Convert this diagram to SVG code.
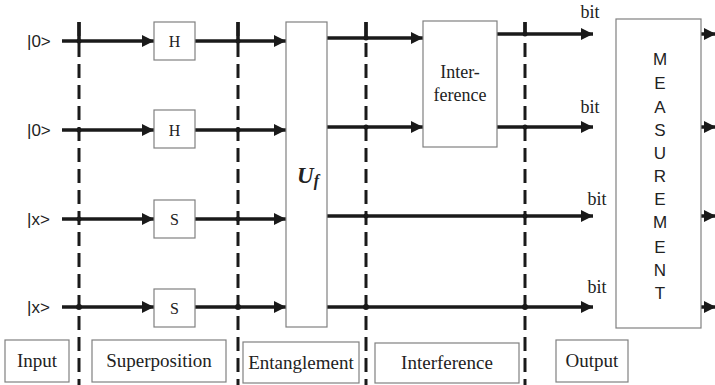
<svg xmlns="http://www.w3.org/2000/svg" width="715" height="385" viewBox="0 0 715 385">
<style>
.wire{stroke:#1a1a1a;stroke-width:3.5;fill:none}
.dash{stroke:#1a1a1a;stroke-width:3;fill:none;stroke-dasharray:14,7}
.box{fill:#fff;stroke:#808080;stroke-width:1.2}
.serif{font-family:"Liberation Serif","Times New Roman",serif;fill:#222}
.sans{font-family:"Liberation Sans",Arial,sans-serif;fill:#222}
.dot{fill:#1a1a1a}
</style>
<defs>
<marker id="arr" viewBox="0 0 12 12" refX="12" refY="6" markerWidth="12" markerHeight="12" markerUnits="userSpaceOnUse" orient="auto">
<path d="M0,0 L12,6 L0,12 Z" fill="#1a1a1a"/>
</marker>
</defs>
<rect width="715" height="385" fill="#fff"/>
<g id="connectors">
<line class="dash" x1="79" y1="22" x2="79" y2="385"/>
<line class="dash" x1="238" y1="22" x2="238" y2="385"/>
<line class="dash" x1="366" y1="22" x2="366" y2="385"/>
<line class="dash" x1="525" y1="22" x2="525" y2="385"/>
<line class="wire" x1="62" y1="41" x2="154" y2="41" marker-end="url(#arr)"/>
<line class="wire" x1="62" y1="130" x2="154" y2="130" marker-end="url(#arr)"/>
<line class="wire" x1="62" y1="219" x2="154" y2="219" marker-end="url(#arr)"/>
<line class="wire" x1="62" y1="307" x2="154" y2="307" marker-end="url(#arr)"/>
<line class="wire" x1="195" y1="41" x2="286" y2="41" marker-end="url(#arr)"/>
<line class="wire" x1="195" y1="130" x2="286" y2="130" marker-end="url(#arr)"/>
<line class="wire" x1="195" y1="219" x2="286" y2="219" marker-end="url(#arr)"/>
<line class="wire" x1="195" y1="307" x2="286" y2="307" marker-end="url(#arr)"/>
<line class="wire" x1="327" y1="38" x2="423" y2="38" marker-end="url(#arr)"/>
<line class="wire" x1="327" y1="127" x2="423" y2="127" marker-end="url(#arr)"/>
<line class="wire" x1="327" y1="216" x2="593" y2="216" marker-end="url(#arr)"/>
<line class="wire" x1="327" y1="307" x2="593" y2="307" marker-end="url(#arr)"/>
<line class="wire" x1="497" y1="34" x2="593" y2="34" marker-end="url(#arr)"/>
<line class="wire" x1="497" y1="127" x2="593" y2="127" marker-end="url(#arr)"/>
<line class="wire" x1="701" y1="34" x2="716" y2="34" marker-end="url(#arr)"/>
<line class="wire" x1="701" y1="127" x2="716" y2="127" marker-end="url(#arr)"/>
<line class="wire" x1="701" y1="216" x2="716" y2="216" marker-end="url(#arr)"/>
<line class="wire" x1="701" y1="307" x2="716" y2="307" marker-end="url(#arr)"/>
<line class="wire" x1="79" y1="22" x2="79" y2="41" stroke-width="3"/>
<line class="wire" x1="238" y1="22" x2="238" y2="41" stroke-width="3"/>
<line class="wire" x1="366" y1="22" x2="366" y2="38" stroke-width="3"/>
<line class="wire" x1="525" y1="22" x2="525" y2="34" stroke-width="3"/>
<circle class="dot" cx="79" cy="41" r="2.5"/>
<circle class="dot" cx="79" cy="130" r="2.5"/>
<circle class="dot" cx="79" cy="219" r="2.5"/>
<circle class="dot" cx="79" cy="307" r="3"/>
<circle class="dot" cx="238" cy="41" r="2.5"/>
<circle class="dot" cx="238" cy="130" r="2.5"/>
<circle class="dot" cx="238" cy="219" r="2.5"/>
<circle class="dot" cx="238" cy="307" r="3"/>
<circle class="dot" cx="366" cy="38" r="2.5"/>
<circle class="dot" cx="366" cy="127" r="2.5"/>
<circle class="dot" cx="366" cy="216" r="2.5"/>
<circle class="dot" cx="366" cy="307" r="3"/>
<circle class="dot" cx="525" cy="34" r="2.5"/>
<circle class="dot" cx="525" cy="127" r="2.5"/>
<circle class="dot" cx="525" cy="216" r="2.5"/>
<circle class="dot" cx="525" cy="307" r="3"/>
</g>
<g id="inputs" class="sans" font-size="17" font-family="Liberation Sans, Arial, sans-serif">
<text x="27" y="47">|0&gt;</text>
<text x="27" y="136">|0&gt;</text>
<text x="27" y="225">|x&gt;</text>
<text x="27" y="313">|x&gt;</text>
</g>
<g id="H1"><rect class="box" x="154" y="22" width="41" height="38"/><text class="serif" x="174.5" y="47" font-size="16" text-anchor="middle">H</text></g>
<g id="H2"><rect class="box" x="154" y="110" width="41" height="38"/><text class="serif" x="174.5" y="136" font-size="16" text-anchor="middle">H</text></g>
<g id="S1"><rect class="box" x="154" y="200" width="41" height="38"/><text class="serif" x="174.5" y="225" font-size="16" text-anchor="middle">S</text></g>
<g id="S2"><rect class="box" x="154" y="289" width="41" height="38"/><text class="serif" x="174.5" y="314" font-size="16" text-anchor="middle">S</text></g>
<g id="Uf"><rect class="box" x="286" y="22" width="41" height="305"/><text class="serif" x="308" y="183" font-size="23" font-weight="bold" font-style="italic" text-anchor="middle">U<tspan font-size="16" dy="3">f</tspan></text></g>
<g id="interference"><rect class="box" x="423" y="21" width="74" height="126"/>
<text class="serif" x="460" y="78" font-size="18" text-anchor="middle">Inter-</text>
<text class="serif" x="460" y="101" font-size="18" text-anchor="middle">ference</text></g>
<g id="bits" class="serif" font-size="18" text-anchor="middle">
<text x="590" y="18">bit</text>
<text x="590" y="113">bit</text>
<text x="597" y="205">bit</text>
<text x="597" y="293">bit</text>
</g>
<g id="measurement"><rect class="box" x="616" y="19" width="85" height="309"/>
<g class="sans" font-size="17" text-anchor="middle">
<text x="660" y="65">M</text><text x="660" y="89">E</text><text x="660" y="113">A</text><text x="660" y="136">S</text><text x="660" y="159">U</text><text x="660" y="182">R</text><text x="660" y="205">E</text><text x="660" y="228">M</text><text x="660" y="253">E</text><text x="660" y="276">N</text><text x="660" y="299">T</text>
</g></g>
<g id="label-input"><rect class="box" x="5" y="340" width="64" height="42"/><text class="serif" x="37" y="367" font-size="19" text-anchor="middle">Input</text></g>
<g id="label-superposition"><rect class="box" x="92" y="340" width="134" height="42"/><text class="serif" x="159" y="367" font-size="19" text-anchor="middle">Superposition</text></g>
<g id="label-entanglement"><rect class="box" x="243" y="342" width="116" height="41"/><text class="serif" x="301" y="369" font-size="19" text-anchor="middle">Entanglement</text></g>
<g id="label-interference"><rect class="box" x="375" y="343" width="144" height="40"/><text class="serif" x="447" y="369" font-size="19" text-anchor="middle">Interference</text></g>
<g id="label-output"><rect class="box" x="556" y="340" width="72" height="42"/><text class="serif" x="592" y="367" font-size="19" text-anchor="middle">Output</text></g>
</svg>
